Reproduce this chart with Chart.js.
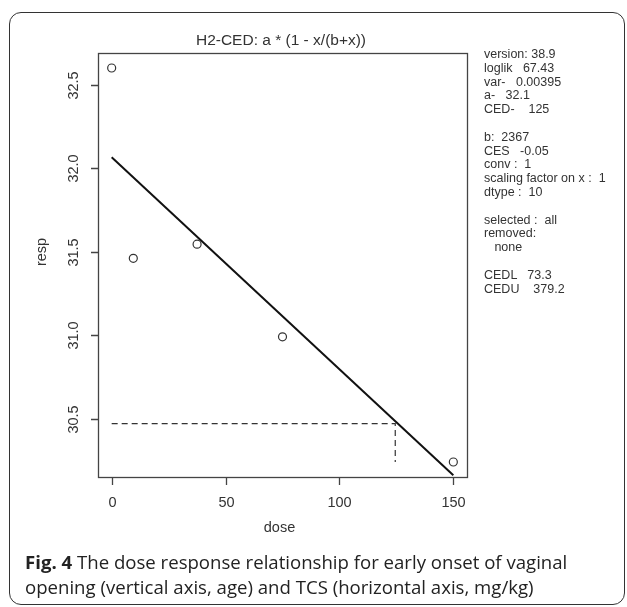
<!DOCTYPE html>
<html>
<head>
<meta charset="utf-8">
<script src="https://cdn.jsdelivr.net/npm/chart.js@4.4.1/dist/chart.umd.min.js"></script>
<style>
  body { margin: 0; background: #fff; }
  #wrap { position: relative; width: 627px; height: 607px; overflow: hidden; }
  #frame { position: absolute; left: 9px; top: 12px; width: 614px; height: 591px;
           border: 1.5px solid #333; border-radius: 12px; }
  canvas { position: absolute; left: 0; top: 0; }
  .r { position: absolute; font-family: "Liberation Sans", Arial, sans-serif; color: #333; white-space: pre; }
  #title { left: 0; width: 562px; top: 31px; text-align: center; font-size: 15.5px; }
  #info { left: 484px; top: 48px; font-size: 12.5px; line-height: 13.8px; }
  #caption { position: absolute; left: 25px; top: 549px; font-family: "Open Sans", "Noto Sans", sans-serif;
             font-size: 18.6px; line-height: 25px; color: #222; white-space: nowrap; }
</style>
</head>
<body>
<div id="wrap">
  <div id="frame"></div>
  <canvas id="c" width="627" height="607"></canvas>
  <div id="title" class="r">H2-CED: a * (1 - x/(b+x))</div>
  <div id="info" class="r"></div>
  <div id="caption"><b>Fig. 4</b> The dose response relationship for early onset of vaginal<br>opening (vertical axis, age) and TCS (horizontal axis, mg/kg)</div>
</div>
<script>
// observed responses
const doses = [0, 9.5, 37.5, 75, 150];
const resp = [32.60, 31.46, 31.545, 30.99, 30.24];

// fitted H2-CED model curve
const fitDose = [0, 150];
const fitResp = [32.065, 30.16];

// CES / CED guide (dashed)
const cedDose = [0, 124.5, 124.5];
const cedResp = [30.47, 30.47, 30.24];

const xTicks = [0, 50, 100, 150];
const yTicks = [30.5, 31.0, 31.5, 32.0, 32.5];
const yTickLabels = ['30.5', '31.0', '31.5', '32.0', '32.5'];

const infoLines = [
  'version: 38.9', 'loglik   67.43', 'var-   0.00395', 'a-   32.1', 'CED-    125', '',
  'b:  2367', 'CES   -0.05', 'conv :  1', 'scaling factor on x :  1', 'dtype :  10', '',
  'selected :  all', 'removed:', '   none', '',
  'CEDL   73.3', 'CEDU    379.2'
];
document.getElementById('info').textContent = infoLines.join('\n');

const pts = (xs, ys) => xs.map((x, i) => ({ x: x, y: ys[i] }));

const axesPlugin = {
  id: 'rAxes',
  afterDraw(chart) {
    const ctx = chart.ctx;
    const a = chart.chartArea;
    const xs = chart.scales.x, ys = chart.scales.y;
    ctx.save();
    ctx.strokeStyle = '#444';
    ctx.lineWidth = 1.3;
    ctx.strokeRect(Math.round(a.left) + 0.5, Math.round(a.top) + 0.5,
                   Math.round(a.right - a.left), Math.round(a.bottom - a.top));
    ctx.fillStyle = '#333';
    ctx.font = '14.5px "Liberation Sans", Arial, sans-serif';
    ctx.textAlign = 'center';
    ctx.textBaseline = 'middle';
    // x axis
    ctx.beginPath();
    xTicks.forEach(t => {
      const px = Math.round(xs.getPixelForValue(t)) + 0.5;
      ctx.moveTo(px, a.bottom);
      ctx.lineTo(px, a.bottom + 8);
      ctx.fillText(String(t), px, a.bottom + 26);
    });
    ctx.stroke();
    // y axis
    ctx.beginPath();
    yTicks.forEach((t, i) => {
      const py = Math.round(ys.getPixelForValue(t)) + 0.5;
      ctx.moveTo(a.left, py);
      ctx.lineTo(a.left - 7, py);
      ctx.save();
      ctx.translate(a.left - 24, py);
      ctx.rotate(-Math.PI / 2);
      ctx.fillText(yTickLabels[i], 0, 0);
      ctx.restore();
    });
    ctx.stroke();
    // axis titles
    ctx.fillText('dose', (a.left + a.right) / 2 - 3, a.bottom + 51);
    ctx.save();
    ctx.translate(42, 252);
    ctx.rotate(-Math.PI / 2);
    ctx.fillText('resp', 0, 0);
    ctx.restore();
    ctx.restore();
  }
};

new Chart(document.getElementById('c'), {
  type: 'scatter',
  data: {
    datasets: [
      {
        data: pts(fitDose, fitResp),
        showLine: true, borderColor: '#111', borderWidth: 2, pointRadius: 0, fill: false
      },
      {
        data: pts(cedDose, cedResp),
        showLine: true, borderColor: '#333', borderWidth: 1.2, borderDash: [6, 4], pointRadius: 0, fill: false
      },
      {
        data: pts(doses, resp),
        showLine: false, pointStyle: 'circle', pointRadius: 4,
        borderColor: '#333', borderWidth: 1.2, backgroundColor: 'rgba(0,0,0,0)'
      }
    ]
  },
  options: {
    responsive: false,
    animation: false,
    devicePixelRatio: 1,
    layout: { padding: { left: 98, top: 53, right: 160, bottom: 130 } },
    scales: {
      x: { type: 'linear', min: -6, max: 156, display: false },
      y: { type: 'linear', min: 30.15, max: 32.69, display: false }
    },
    plugins: { legend: { display: false }, tooltip: { enabled: false }, title: { display: false } },
    elements: { line: { tension: 0 } }
  },
  plugins: [axesPlugin]
});
</script>
</body>
</html>
